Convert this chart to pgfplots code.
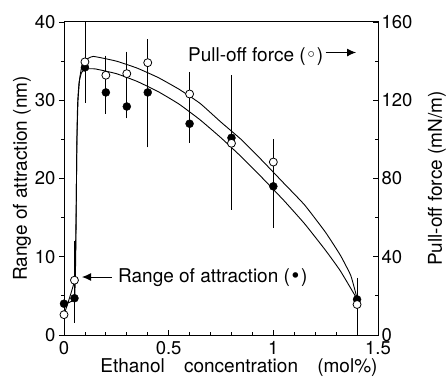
\documentclass[border=0pt]{standalone}
\usepackage{pgfplots}
\pgfplotsset{compat=1.18}
\usepackage{fontspec}
\setmainfont{TeX Gyre Heros}
\newfontfamily\symfont{DejaVu Sans}
\usetikzlibrary{arrows.meta}

\begin{document}
\begin{tikzpicture}[font=\fontsize{19bp}{22bp}\selectfont]
\path[use as bounding box] (-64bp,-50bp) rectangle (384bp,335bp);
\pgfplotsset{
  base/.style={width=314bp, height=313bp, scale only axis,
    xmin=0, xmax=1.5,
    tick label style={font=\fontsize{18.5bp}{20bp}\selectfont},
    /pgf/number format/assume math mode=true,
    axis line style={line width=1pt, black},
    major tick length=5bp, minor tick length=3bp,
    every tick/.append style={line width=0.8pt, black},
  },
  ebars/.style={error bars/.cd, y dir=both, y explicit,
    error bar style={line width=0.8pt, black},
    error mark options={mark size=4bp, line width=0.8pt, black}},
}
% ---------- left axis: range of attraction (nm) ----------
\begin{axis}[base,
  axis x line=none, axis y line*=left,
  ymin=0, ymax=40, ytick={0,10,...,40}, minor ytick={5,15,25,35},
  tick align=outside,
  ylabel={Range of attraction (nm)},
  ylabel style={at={([xshift=-42bp]axis description cs:0,0.5)}, anchor=center},
]
\addplot[black, line width=0.9pt, smooth, tension=0.25] coordinates {
 (0,4.0) (0.05,4.7) (0.057,12) (0.061,24) (0.065,29.5) (0.072,32.3) (0.085,33.6)
 (0.11,34.0) (0.15,34.0) (0.25,33.4) (0.35,32.4) (0.45,31.1) (0.55,29.5)
 (0.65,27.5) (0.75,25.2) (0.85,22.7) (0.95,20.0) (1.05,17.2) (1.15,14.2)
 (1.25,10.8) (1.32,8.2) (1.4,4.6)};
\addplot[only marks, mark=*, mark size=4bp, mark options={fill=black, draw=black}, ebars]
 table[x=x, y=y, y error plus=ep, y error minus=em] {
 x    y     ep   em
 0    4.0   2.0  2.0
 0.05 4.7   2.6  2.6
 0.1  34.2  3.6  2.8
 0.2  31.0  2.2  2.2
 0.3  29.2  1.0  1.0
 0.4  31.0  6.3  6.5
 0.6  27.0  1.8  1.9
 0.8  25.2  2.0  2.0
 1.0  19.0  4.8  4.8
 1.4  4.55  1.85 1.85
};
\node[anchor=base west, inner sep=0pt] at (axis cs:0.592,35.0) {Pull-off force ({\symfont ◦})};
\draw[line width=1pt, -{Latex[length=9bp,width=8bp]}] (axis cs:1.25,36.1) -- (axis cs:1.395,36.1);
\node[anchor=base west, inner sep=0pt] at (axis cs:0.258,6.65) {Range of attraction ({\symfont •})};
\draw[line width=1pt, -{Latex[length=9bp,width=8bp]}] (axis cs:0.229,7.41) -- (axis cs:0.086,7.41);
\end{axis}
% ---------- right axis: pull-off force (mN/m) ----------
\begin{axis}[base,
  ymin=0, ymax=160, ytick={0,40,...,160}, minor ytick={20,60,100,140},
  ytick pos=right, yticklabel pos=right,
  xtick={0,0.5,1,1.5}, minor xtick={0.1,0.2,0.3,0.4,0.6,0.7,0.8,0.9,1.1,1.2,1.3,1.4},
  xtick pos=bottom,
  xticklabel style={yshift=-2.5bp},
  tick align=inside,
  ylabel={Pull-off force (mN/m)},
  ylabel style={at={([xshift=59bp]axis description cs:1,0.5)}, anchor=center, rotate=0},
  xlabel={Ethanol\hspace{14bp} concentration\hspace{14bp} (mol\%)},
  xlabel style={at={([xshift=18bp,yshift=-37bp]axis description cs:0.5,0)}, anchor=base},
]
\addplot[black, line width=0.9pt, smooth, tension=0.25] coordinates {
 (0,10.4) (0.05,28) (0.057,56) (0.062,100) (0.067,120) (0.075,131.2) (0.085,137.2)
 (0.1,140.4) (0.14,142.4) (0.25,140.0) (0.35,136.4) (0.45,131.6) (0.55,125.6)
 (0.65,118.4) (0.75,108.8) (0.85,99.6) (0.95,88.8) (1.05,77.6) (1.15,66.4)
 (1.25,52.4) (1.32,40.8) (1.37,30.4) (1.4,18.8)};
\addplot[only marks, mark=*, mark size=4bp, mark options={fill=white, draw=black, line width=0.8pt}, ebars]
 table[x=x, y=y, y error plus=ep, y error minus=em] {
 x    y      ep    em
 0    10.4   7.0   7.0
 0.05 28.0   18.0  18.0
 0.1  139.6  18.4  18.8
 0.2  132.8  8.0   8.0
 0.3  133.6  9.2   9.2
 0.4  139.2  4.0   4.0
 0.6  123.2  9.2   9.2
 0.8  98.0   32.8  32.0
 1.0  88.4   9.6   9.6
 1.4  15.6   11.6  15.6
};
\end{axis}
\end{tikzpicture}
\end{document}
